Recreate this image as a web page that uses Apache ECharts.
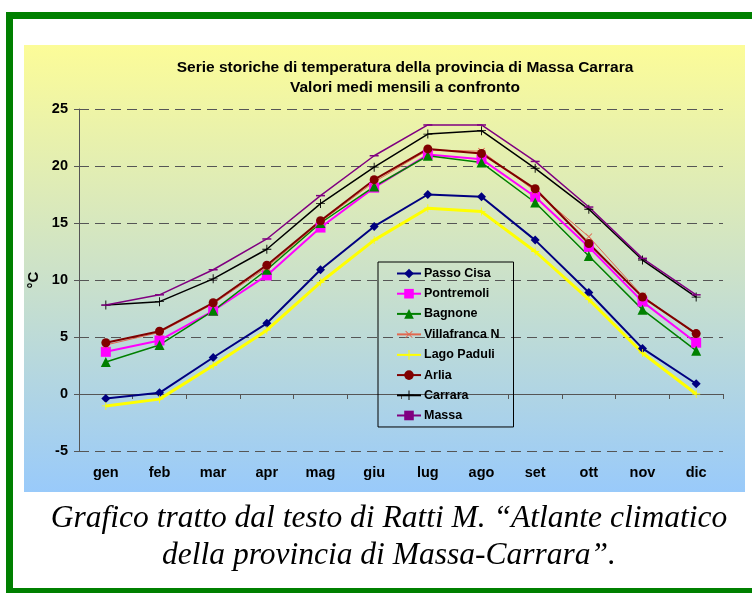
<!DOCTYPE html>
<html>
<head>
<meta charset="utf-8">
<title>Serie storiche di temperatura - Massa Carrara</title>
<script src="https://cdn.jsdelivr.net/npm/echarts@6/dist/echarts.min.js"></script>
<style>
  html, body { margin: 0; padding: 0; background: #fff; }
  #chart { width: 752px; height: 593px; }
</style>
</head>
<body>
<div id="chart"></div>
<script>
// months and y ticks
const months = ["gen", "feb", "mar", "apr", "mag", "giu", "lug", "ago", "set", "ott", "nov", "dic"];
const yTicks = [-5, 0, 5, 10, 15, 20, 25];

// monthly mean temperatures (°C)
const passoCisa = [-0.4, 0.1, 3.2, 6.2, 10.9, 14.7, 17.5, 17.3, 13.5, 8.9, 4.0, 0.9];
const pontremoli = [3.7, 4.7, 7.3, 10.4, 14.6, 18.1, 21.0, 20.6, 17.3, 12.9, 8.1, 4.5];
const bagnone = [2.8, 4.3, 7.3, 10.9, 15.0, 18.2, 20.9, 20.3, 16.8, 12.1, 7.4, 3.8];
const villafranca = [4.3, 5.4, 7.9, 11.1, 15.1, 18.6, 21.4, 21.3, 17.8, 13.8, 8.6, 5.2];
const lagoPaduli = [-1.05, -0.45, 2.5, 5.6, 9.8, 13.5, 16.3, 16.0, 12.5, 8.3, 3.6, 0.0];
const arlia = [4.5, 5.5, 8.0, 11.3, 15.2, 18.8, 21.5, 21.1, 18.0, 13.2, 8.5, 5.3];
const carrara = [7.8, 8.1, 10.1, 12.7, 16.7, 19.9, 22.8, 23.1, 19.8, 16.2, 11.75, 8.5];
const massa = [7.8, 8.7, 10.9, 13.6, 17.4, 20.9, 23.6, 23.6, 20.4, 16.4, 11.9, 8.7];

const PLUS = "path://M4.5,0 L5.5,0 L5.5,4.5 L10,4.5 L10,5.5 L5.5,5.5 L5.5,10 L4.5,10 L4.5,5.5 L0,5.5 L0,4.5 L4.5,4.5 Z";

const chart = echarts.init(document.getElementById("chart"));

const makeSeries = (name, data, color, width, symbol, size, extra) => Object.assign({
  name: name,
  type: "line",
  data: data,
  symbol: symbol,
  symbolSize: size,
  lineStyle: { color: color, width: width },
  itemStyle: { color: color },
  emphasis: { disabled: true },
  animation: false
}, extra || {});

const option = {
  animation: false,
  textStyle: { fontFamily: "Liberation Sans, Arial, sans-serif" },
  graphic: [
    // white page with green frame
    {
      type: "rect", z: -10, silent: true,
      shape: { x: 9.5, y: 15.5, width: 760, height: 576 },
      style: { fill: "#fff", stroke: "#008000", lineWidth: 7 }
    },
    // yellow -> blue chart area
    {
      type: "rect", z: -9, silent: true,
      shape: { x: 24, y: 45, width: 721, height: 447 },
      style: {
        fill: new echarts.graphic.LinearGradient(0, 0, 0, 1, [
          { offset: 0, color: "#fcfc98" },
          { offset: 0.5, color: "#cde2c8" },
          { offset: 1, color: "#99cafa" }
        ])
      }
    },
    {
      type: "text", x: 389, y: 500, silent: true,
      style: {
        text: "Grafico tratto dal testo di Ratti M. \u201cAtlante climatico\ndella provincia di Massa-Carrara\u201d.",
        align: "center",
        verticalAlign: "top",
        font: "italic 31.5px 'Liberation Serif', 'Times New Roman', serif",
        lineHeight: 37,
        fill: "#000"
      }
    }
  ],
  title: {
    text: "Serie storiche di temperatura della provincia di Massa Carrara\nValori medi mensili a confronto",
    left: 400,
    textAlign: "center",
    top: 53,
    textStyle: { fontSize: 15.5, fontWeight: "bold", color: "#000", lineHeight: 20 }
  },
  legend: {
    orient: "vertical",
    left: 378,
    top: 262,
    width: 134,
    padding: [5, 14, 5, 18],
    borderColor: "#000",
    borderWidth: 1,
    itemGap: 7.2,
    itemWidth: 24,
    itemHeight: 12,
    textStyle: { fontSize: 12.5, fontWeight: "bold", color: "#000", padding: [0, 0, 0, -2] }
  },
  grid: { left: 79, right: 29, top: 109, bottom: 142 },
  xAxis: {
    type: "category",
    data: months,
    boundaryGap: true,
    axisLine: { lineStyle: { color: "#555", width: 1 } },
    axisTick: { show: true, length: 5, lineStyle: { color: "#555" } },
    axisLabel: { color: "#000", fontSize: 14.5, fontWeight: "bold", margin: 14 }
  },
  yAxis: {
    type: "value",
    min: yTicks[0],
    max: yTicks[yTicks.length - 1],
    interval: yTicks[1] - yTicks[0],
    name: "°C",
    nameLocation: "middle",
    nameRotate: 90,
    nameGap: 36,
    nameTextStyle: { fontSize: 15, fontWeight: "bold", color: "#000" },
    axisLine: { show: true, lineStyle: { color: "#555" } },
    axisTick: { show: true, length: 5, lineStyle: { color: "#555" } },
    axisLabel: { color: "#000", fontSize: 14.5, fontWeight: "bold", margin: 11 },
    splitLine: { show: true, lineStyle: { color: "#555", type: [10, 6], width: 1 } }
  },
  series: [
    makeSeries("Passo Cisa", passoCisa, "#000080", 2, "diamond", 9),
    makeSeries("Pontremoli", pontremoli, "#ff00ff", 2, "rect", 10),
    makeSeries("Bagnone", bagnone, "#008000", 1.5, "triangle", 10),
    makeSeries("Villafranca N", villafranca, "#e2674f", 1, PLUS, 9, { symbolRotate: 45 }),
    makeSeries("Lago Paduli", lagoPaduli, "#ffff00", 3, PLUS, 8),
    makeSeries("Arlia", arlia, "#800000", 2, "circle", 9),
    makeSeries("Carrara", carrara, "#000000", 1.5, PLUS, 9),
    makeSeries("Massa", massa, "#800080", 1.5, "rect", [9, 1.5])
  ]
};

chart.setOption(option);
</script>
</body>
</html>
